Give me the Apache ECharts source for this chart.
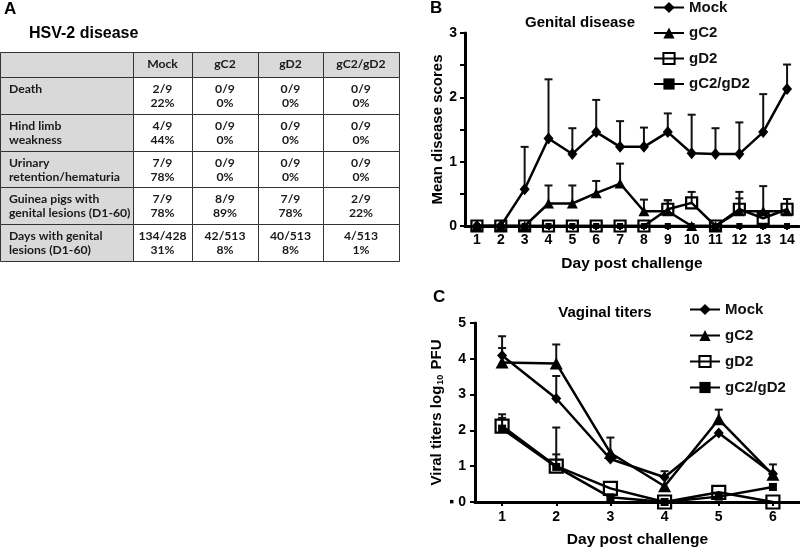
<!DOCTYPE html>
<html><head><meta charset="utf-8">
<script src="https://cdn.jsdelivr.net/npm/echarts@6/dist/echarts.min.js"></script>
<style>html,body{margin:0;padding:0;background:#fff}#c{width:800px;height:549px}</style>
</head><body><div id="c"></div>
<script>
// ---------- DATA ----------
const tableCols = ['', 'Mock', 'gC2', 'gD2', 'gC2/gD2'];
const rowLabels = ['Death', 'Hind limb\nweakness', 'Urinary\nretention/hematuria', 'Guinea pigs with\ngenital lesions (D1-60)', 'Days with genital\nlesions (D1-60)'];
const counts = [
  ['2/9', '0/9', '0/9', '0/9'],
  ['4/9', '0/9', '0/9', '0/9'],
  ['7/9', '0/9', '0/9', '0/9'],
  ['7/9', '8/9', '7/9', '2/9'],
  ['134/428', '42/513', '40/513', '4/513']
];
const percents = [
  ['22%', '0%', '0%', '0%'],
  ['44%', '0%', '0%', '0%'],
  ['78%', '0%', '0%', '0%'],
  ['78%', '89%', '78%', '22%'],
  ['31%', '8%', '8%', '1%']
];
const seriesNames = ['Mock', 'gC2', 'gD2', 'gC2/gD2'];

const daysB = ['1','2','3','4','5','6','7','8','9','10','11','12','13','14'];
const mockB = [0, 0, 0.57, 1.36, 1.12, 1.46, 1.23, 1.23, 1.46, 1.13, 1.12, 1.12, 1.46, 2.13];
const mockBErr = [0, 0, 0.66, 0.92, 0.40, 0.50, 0.40, 0.30, 0.29, 0.60, 0.40, 0.49, 0.59, 0.38];
const gC2B = [0, 0, 0, 0.35, 0.35, 0.51, 0.66, 0.23, 0.23, 0, 0, 0.23, 0.23, 0.23];
const gC2BErr = [0, 0, 0, 0.28, 0.28, 0.19, 0.31, 0.18, 0.17, 0, 0, 0.30, 0.39, 0.19];
const gD2B = [0, 0, 0, 0, 0, 0, 0, 0, 0.26, 0.36, 0, 0.26, 0.12, 0.26];
const gD2BErr = [0, 0, 0, 0, 0, 0, 0, 0, 0.14, 0.17, 0, 0.17, 0, 0.16];
const gC2gD2B = [0, 0, 0, 0, 0, 0, 0, 0, 0, 0, 0, 0, 0, 0];

const daysC = ['1','2','3','4','5','6'];
const mockC = [4.09, 2.89, 1.20, 0.69, 1.93, 0.79];
const mockCErr = [0.54, 0.63, 0, 0.17, 0, 0.26];
const gC2C = [3.90, 3.87, 1.37, 0.44, 2.31, 0.76];
const gC2CErr = [0.40, 0.53, 0.43, 0, 0.27, 0];
const gD2C = [2.12, 1.00, 0.38, 0, 0.27, 0];
const gD2CErr = [0.33, 1.08, 0, 0, 0, 0];
const gC2gD2C = [2.05, 0.98, 0.13, 0, 0.15, 0.42];
const gC2gD2CErr = [0.30, 0.35, 0, 0, 0, 0];

// ---------- LAYOUT ----------
const FONT = 'Liberation Sans, Arial, sans-serif';
const TFONT = 'bold 12.2px Lato, sans-serif';
const colEdges = [0, 133, 192, 258, 323, 399];
const GRAY = '#d9d9d9';

const grids = [], xAxes = [], yAxes = [], series = [];

function cellRenderer(fill, textFn, mode) {
  return function (params, api) {
    const c = api.coord([api.value(0), api.value(1)]);
    const s = api.size([1, 1]);
    const x0 = c[0] - s[0] / 2, y0 = c[1] - s[1] / 2;
    const txt = textFn(params.dataIndex);
    let tx, ty, al, va;
    if (mode === 'header') { tx = c[0]; ty = c[1]; al = 'center'; va = 'middle'; }
    else if (mode === 'label') { tx = x0 + 9; ty = y0 + 5; al = 'left'; va = 'top'; }
    else { tx = c[0]; ty = y0 + 5; al = 'center'; va = 'top'; }
    return {
      type: 'group', children: [
        { type: 'rect', shape: { x: Math.round(x0) + 0.5, y: Math.round(y0) + 0.5, width: Math.round(s[0]), height: Math.round(s[1]) },
          style: { fill: fill, stroke: '#333', lineWidth: 1 } },
        { type: 'text', style: { text: txt, x: tx, y: ty, align: al, verticalAlign: va, textAlign: al, textVerticalAlign: va,
          font: TFONT, lineHeight: 14, fill: '#1a1a1a' } }
      ]
    };
  };
}

for (let c = 0; c < 5; c++) {
  const w = colEdges[c + 1] - colEdges[c];
  let gi = grids.length;
  grids.push({ left: colEdges[c], top: 52, width: w, height: 25 });
  xAxes.push({ type: 'category', gridIndex: gi, data: [tableCols[c]], show: false });
  yAxes.push({ type: 'category', gridIndex: gi, data: ['header'], show: false });
  series.push({ type: 'custom', xAxisIndex: gi, yAxisIndex: gi, data: [[0, 0]], silent: true,
    renderItem: cellRenderer(GRAY, () => tableCols[c], 'header') });
  gi = grids.length;
  grids.push({ left: colEdges[c], top: 77, width: w, height: 184 });
  xAxes.push({ type: 'category', gridIndex: gi, data: [tableCols[c]], show: false });
  yAxes.push({ type: 'category', gridIndex: gi, data: rowLabels, inverse: true, show: false });
  const data = rowLabels.map((r, i) => [0, i]);
  if (c === 0) {
    series.push({ type: 'custom', xAxisIndex: gi, yAxisIndex: gi, data, silent: true,
      renderItem: cellRenderer(GRAY, (i) => rowLabels[i], 'label') });
  } else {
    series.push({ type: 'custom', xAxisIndex: gi, yAxisIndex: gi, data, silent: true,
      renderItem: cellRenderer('#ffffff', (i) => counts[i][c - 1] + '\n' + percents[i][c - 1], 'body') });
  }
}

// ---------- CHARTS ----------
const GB = grids.length;
grids.push({ left: 465, top: 33, right: 1, height: 193 });
const GC = grids.length;
grids.push({ left: 475, top: 323, right: 0, height: 180 });

const axisLine = { show: true, lineStyle: { color: '#000', width: 3 } };
const labelStyle = { color: '#000', fontWeight: 'bold', fontSize: 14, fontFamily: FONT };
const nameStyle = { color: '#000', fontWeight: 'bold', fontSize: 15.5, fontFamily: FONT };

xAxes.push({ type: 'category', gridIndex: GB, data: daysB, axisLine,
  axisTick: { show: true, alignWithLabel: true, length: 4, lineStyle: { color: '#000', width: 2 } },
  axisLabel: Object.assign({ margin: 7, interval: 0 }, labelStyle),
  name: 'Day post challenge', nameLocation: 'middle', nameGap: 30, nameTextStyle: nameStyle });
yAxes.push({ type: 'value', gridIndex: GB, min: 0, max: 3, interval: 0.5, axisLine,
  axisTick: { show: true, length: 5, lineStyle: { color: '#000', width: 2 } },
  splitLine: { show: false },
  axisLabel: Object.assign({ margin: 8, formatter: v => (v % 1 === 0 ? String(v) : '') }, labelStyle),
  name: 'Mean disease scores', nameLocation: 'middle', nameRotate: 90, nameGap: 20,
  nameTextStyle: Object.assign({}, nameStyle, { fontSize: 15 }) });

xAxes.push({ type: 'category', gridIndex: GC, data: daysC, axisLine,
  axisTick: { show: true, alignWithLabel: true, length: 4, lineStyle: { color: '#000', width: 2 } },
  axisLabel: Object.assign({ margin: 8 }, labelStyle),
  name: 'Day post challenge', nameLocation: 'middle', nameGap: 30, nameTextStyle: nameStyle });
yAxes.push({ type: 'value', gridIndex: GC, min: 0, max: 5, interval: 1, axisLine,
  axisTick: { show: true, length: 5, lineStyle: { color: '#000', width: 2 } },
  splitLine: { show: false },
  axisLabel: Object.assign({ margin: 9, formatter: v => (v === 0 ? '\u25aa 0' : String(v)) }, labelStyle),
  name: '{a|Viral titers log}{s|10}{a| PFU}', nameLocation: 'middle', nameRotate: 90, nameGap: 20,
  nameTextStyle: { rich: {
    a: { color: '#000', fontWeight: 'bold', fontSize: 15, fontFamily: FONT, lineHeight: 18 },
    s: { color: '#000', fontWeight: 'bold', fontSize: 9, fontFamily: FONT, lineHeight: 18, padding: [8, 1, 0, 1] }
  } } });

function errRenderer(params, api) {
  const x = api.value(0), v = api.value(1), e = api.value(2);
  if (!e) return null;
  const p0 = api.coord([x, v]), p1 = api.coord([x, v + e]);
  const cw = 4;
  return { type: 'group', children: [
    { type: 'line', shape: { x1: p0[0], y1: p0[1], x2: p1[0], y2: p1[1] }, style: { stroke: '#111', lineWidth: 2 } },
    { type: 'line', shape: { x1: p1[0] - cw, y1: p1[1], x2: p1[0] + cw, y2: p1[1] }, style: { stroke: '#111', lineWidth: 2 } }
  ] };
}
function errSeries(vals, errs, gi) {
  return { type: 'custom', xAxisIndex: gi, yAxisIndex: gi, silent: true, z: 1,
    data: vals.map((v, i) => [i, v, errs[i]]), renderItem: errRenderer };
}
function lineSeries(name, vals, gi, sym, size, hollow) {
  return { type: 'line', name, xAxisIndex: gi, yAxisIndex: gi, data: vals, symbol: sym, symbolSize: size,
    showAllSymbol: true, z: 2, silent: true,
    lineStyle: { color: '#000', width: 2.5 },
    itemStyle: { color: hollow ? 'rgba(255,255,255,0)' : '#000', borderColor: '#000', borderWidth: hollow ? 2.2 : 0 },
    emphasis: { disabled: true } };
}

series.push(errSeries(mockB, mockBErr, GB), errSeries(gC2B, gC2BErr, GB), errSeries(gD2B, gD2BErr, GB));
series.push(
  lineSeries('Mock', mockB, GB, 'diamond', [10, 12], false),
  lineSeries('gC2', gC2B, GB, 'triangle', [11, 10], false),
  lineSeries('gD2', gD2B, GB, 'rect', 11, true),
  lineSeries('gC2/gD2', gC2gD2B, GB, 'rect', 6, false)
);
series.push(errSeries(mockC, mockCErr, GC), errSeries(gC2C, gC2CErr, GC), errSeries(gD2C, gD2CErr, GC), errSeries(gC2gD2C, gC2gD2CErr, GC));
series.push(
  lineSeries('Mock', mockC, GC, 'diamond', [10, 11], false),
  lineSeries('gC2', gC2C, GC, 'triangle', [13, 12], false),
  lineSeries('gD2', gD2C, GC, 'rect', 13, true),
  lineSeries('gC2/gD2', gC2gD2C, GC, 'rect', 8, false)
);

const legendText = { color: '#111', fontWeight: 'bold', fontSize: 15, fontFamily: FONT };
const legends = [
  { data: seriesNames, orient: 'vertical', left: 653, top: 0, padding: 0, itemWidth: 30, itemHeight: 14, itemGap: 10.5,
    textStyle: legendText, selectedMode: false },
  { data: seriesNames, orient: 'vertical', left: 689, top: 302, padding: 0, itemWidth: 30, itemHeight: 14, itemGap: 11,
    textStyle: legendText, selectedMode: false }
];

const txt = (text, x, y, size, align) => ({ type: 'text', x, y,
  style: { text, font: 'bold ' + size + 'px ' + FONT, fill: '#000', textAlign: align || 'left', textVerticalAlign: 'middle',
    align: align || 'left', verticalAlign: 'middle' } });

const option = {
  backgroundColor: '#fff',
  animation: false,
  grid: grids, xAxis: xAxes, yAxis: yAxes, series, legend: legends,
  graphic: [
    txt('A', 4, 9, 17),
    txt('HSV-2 disease', 29, 34, 16),
    txt('B', 430, 8, 17),
    txt('Genital disease', 580, 23, 15, 'center'),
    txt('C', 433, 297, 17),
    txt('Vaginal titers', 605, 313, 15, 'center')
  ]
};
const chart = echarts.init(document.getElementById('c'), null, { renderer: 'canvas' });
chart.setOption(option);
</script></body></html>
